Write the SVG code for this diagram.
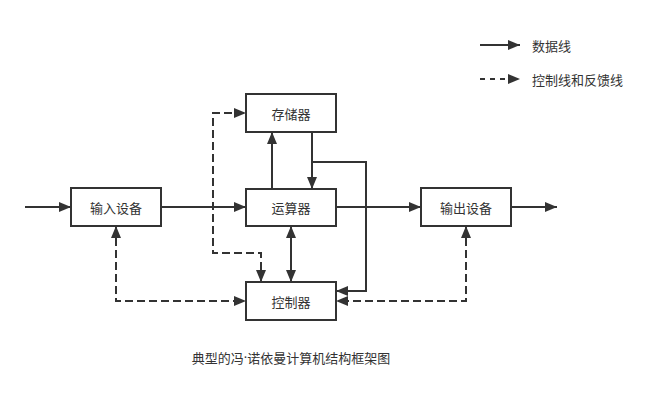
<svg xmlns="http://www.w3.org/2000/svg" width="651" height="405" viewBox="0 0 651 405">
<style>
.box rect{fill:#fff;stroke:#333;stroke-width:2}
text{font-family:"Noto Sans CJK SC","Noto Sans",sans-serif;font-size:13px;fill:#333;dominant-baseline:central}
.c{text-anchor:middle}
.ln{fill:none;stroke:#333;stroke-width:2}
.d{stroke-dasharray:8 4}
</style>
<defs>
<marker id="ah" markerUnits="userSpaceOnUse" markerWidth="12" markerHeight="10" refX="12" refY="5" orient="auto-start-reverse">
<path d="M0,0 L12,5 L0,10 Z" fill="#333"/>
</marker>
</defs>
<rect width="651" height="405" fill="#fff"/>
<g id="connectors">
<path class="ln" d="M25,207 H71" marker-end="url(#ah)"/>
<path class="ln" d="M161,207 H246" marker-end="url(#ah)"/>
<path class="ln" d="M336,207 H421" marker-end="url(#ah)"/>
<path class="ln" d="M511,207 H557" marker-end="url(#ah)"/>
<path class="ln" d="M272,189 V132" marker-end="url(#ah)"/>
<path class="ln" d="M312,132 V189" marker-end="url(#ah)"/>
<path class="ln" d="M312,162 H366 V291 H336" marker-end="url(#ah)"/>
<path class="ln" d="M291,226 V282" marker-start="url(#ah)" marker-end="url(#ah)"/>
<path class="ln d" d="M261,282 V253 H213 V113 H246" marker-start="url(#ah)" marker-end="url(#ah)"/>
<path class="ln d" d="M116,226 V301 H246" marker-start="url(#ah)" marker-end="url(#ah)"/>
<path class="ln d" d="M466,226 V301 H336" marker-start="url(#ah)" marker-end="url(#ah)"/>
</g>
<g id="legend">
<path class="ln" d="M480,45 H520" marker-end="url(#ah)"/>
<text x="532" y="45">数据线</text>
<path class="ln" d="M480,79 H520" style="stroke-dasharray:5 5" marker-end="url(#ah)"/>
<text x="532" y="79">控制线和反馈线</text>
</g>
<g id="memory" class="box"><rect x="246" y="94" width="90" height="38"/><text class="c" x="291" y="113">存储器</text></g>
<g id="alu" class="box"><rect x="246" y="189" width="90" height="37"/><text class="c" x="291" y="207">运算器</text></g>
<g id="control" class="box"><rect x="246" y="282" width="90" height="38"/><text class="c" x="291" y="301">控制器</text></g>
<g id="input" class="box"><rect x="71" y="188" width="90" height="38"/><text class="c" x="116" y="207">输入设备</text></g>
<g id="output" class="box"><rect x="421" y="188" width="90" height="38"/><text class="c" x="466" y="207">输出设备</text></g>
<text class="c" x="291" y="357">典型的冯<tspan style="font-family:'Noto Sans',sans-serif">·</tspan>诺依曼计算机结构框架图</text>
</svg>
